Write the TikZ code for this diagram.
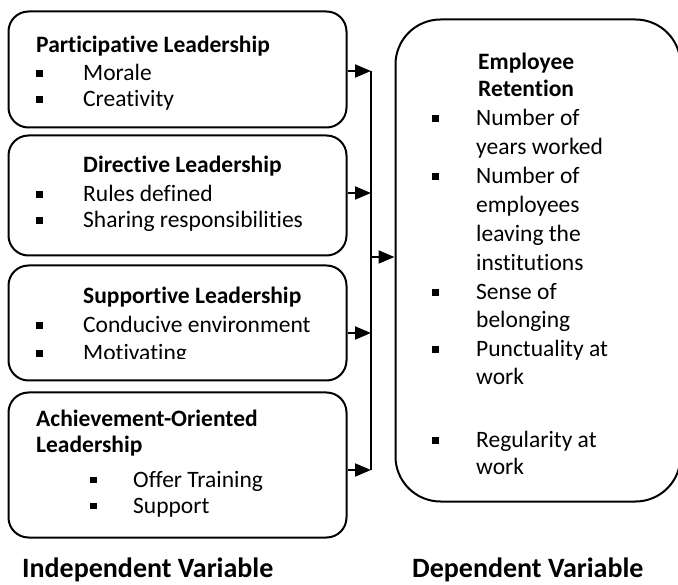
\documentclass[tikz,border=0pt]{standalone}
\usepackage{fontspec}
\setmainfont{Carlito}[Ligatures={NoCommon}]
\usetikzlibrary{arrows.meta}

% square bullet followed by a fixed indent
\newcommand\sqbul[1]{\makebox[#1][l]{\rule[4pt]{6.5pt}{6.5pt}}}

\tikzset{
  box/.style={draw, line width=2pt, rounded corners=20pt, inner sep=0pt},
  bigbox/.style={draw, line width=2pt, rounded corners=45pt, inner sep=0pt},
  ln/.style={anchor=base west, inner sep=0pt, font=\fontsize{23.5}{25}\selectfont},
  hd/.style={ln, font=\fontsize{23.5}{25}\selectfont\bfseries},
  lbl/.style={anchor=base west, inner sep=0pt, font=\fontsize{28}{30}\selectfont\bfseries},
  link/.style={line width=2pt, -{Triangle[length=16pt, width=13pt]}},
  bus/.style={line width=2pt}
}

\begin{document}
\begin{tikzpicture}[x=1pt, y=-1pt]
\useasboundingbox (0,0) rectangle (678,585);
\clip (0,0) rectangle (678,585);

% independent-variable boxes
\node[box, minimum width=338pt, minimum height=116pt] (part) at (177.5,69.5) {};
\node[box, minimum width=338pt, minimum height=120pt] (dir)  at (177.5,195.5) {};
\node[box, minimum width=338pt, minimum height=115pt] (sup)  at (177.5,323) {};
\node[box, minimum width=338pt, minimum height=145pt] (ach)  at (177.5,465) {};

% dependent-variable box
\node[bigbox, minimum width=285pt, minimum height=482pt] (ret) at (538,260.5) {};

% Participative Leadership
\node[hd] (t1) at (36,53) {Participative Leadership};
\node[ln] (t1a) at (36,81) {\sqbul{47pt}Morale};
\node[ln] (t1b) at (36,107) {\sqbul{47pt}Creativity};

% Directive Leadership
\node[hd] (t2) at (83,173) {Directive Leadership};
\node[ln] (t2a) at (36,202) {\sqbul{47pt}Rules defined};
\node[ln] (t2b) at (36,228) {\sqbul{47pt}Sharing responsibilities};

% Supportive Leadership (last line cut off by its text frame)
\node[hd] (t3) at (83,304) {Supportive Leadership};
\node[ln] (t3a) at (36,333) {\sqbul{47pt}Conducive environment};
\begin{scope}
  \clip (0,300) rectangle (678,359);
  \node[ln] (t3b) at (36,361) {\sqbul{47pt}Motivating};
\end{scope}

% Achievement-Oriented Leadership
\node[hd] (t4) at (36,427) {Achievement-Oriented};
\node[hd] (t4l) at (36,453) {Leadership};
\node[ln] (t4a) at (90,487) {\sqbul{43pt}Offer Training};
\node[ln] (t4b) at (90,513) {\sqbul{43pt}Support};

% Employee Retention
\node[hd] (r0) at (478,70) {Employee};
\node[hd] (r0b) at (478,97) {Retention};
\node[ln] (r1) at (432,126) {\sqbul{44pt}Number of};
\node[ln] (r1b) at (476,155) {years worked};
\node[ln] (r2) at (432,184) {\sqbul{44pt}Number of};
\node[ln] (r2b) at (476,213) {employees};
\node[ln] (r2c) at (476,242) {leaving the};
\node[ln] (r2d) at (476,271) {institutions};
\node[ln] (r3) at (432,300) {\sqbul{44pt}Sense of};
\node[ln] (r3b) at (476,328) {belonging};
\node[ln] (r4) at (432,357) {\sqbul{44pt}Punctuality at};
\node[ln] (r4b) at (476,385) {work};
\node[ln] (r5) at (432,448) {\sqbul{44pt}Regularity at};
\node[ln] (r5b) at (476,475) {work};

% bus connecting the four boxes to the dependent variable
\coordinate (b1) at (371,71);
\coordinate (b2) at (371,193);
\coordinate (b3) at (371,333);
\coordinate (b4) at (371,470);
\coordinate (bm) at (371,257);

\draw[bus] (b1) -- (b4);
\draw[link] (part.east |- b1) -- (b1);
\draw[link] (dir.east |- b2) -- (b2);
\draw[link] (sup.east |- b3) -- (b3);
\draw[link] (ach.east |- b4) -- (b4);
\draw[link] (bm) -- (ret.west |- bm);

% variable captions
\node[lbl] (iv) at (22,577) {Independent Variable};
\node[lbl] (dv) at (412,577) {Dependent Variable};
\end{tikzpicture}
\end{document}
